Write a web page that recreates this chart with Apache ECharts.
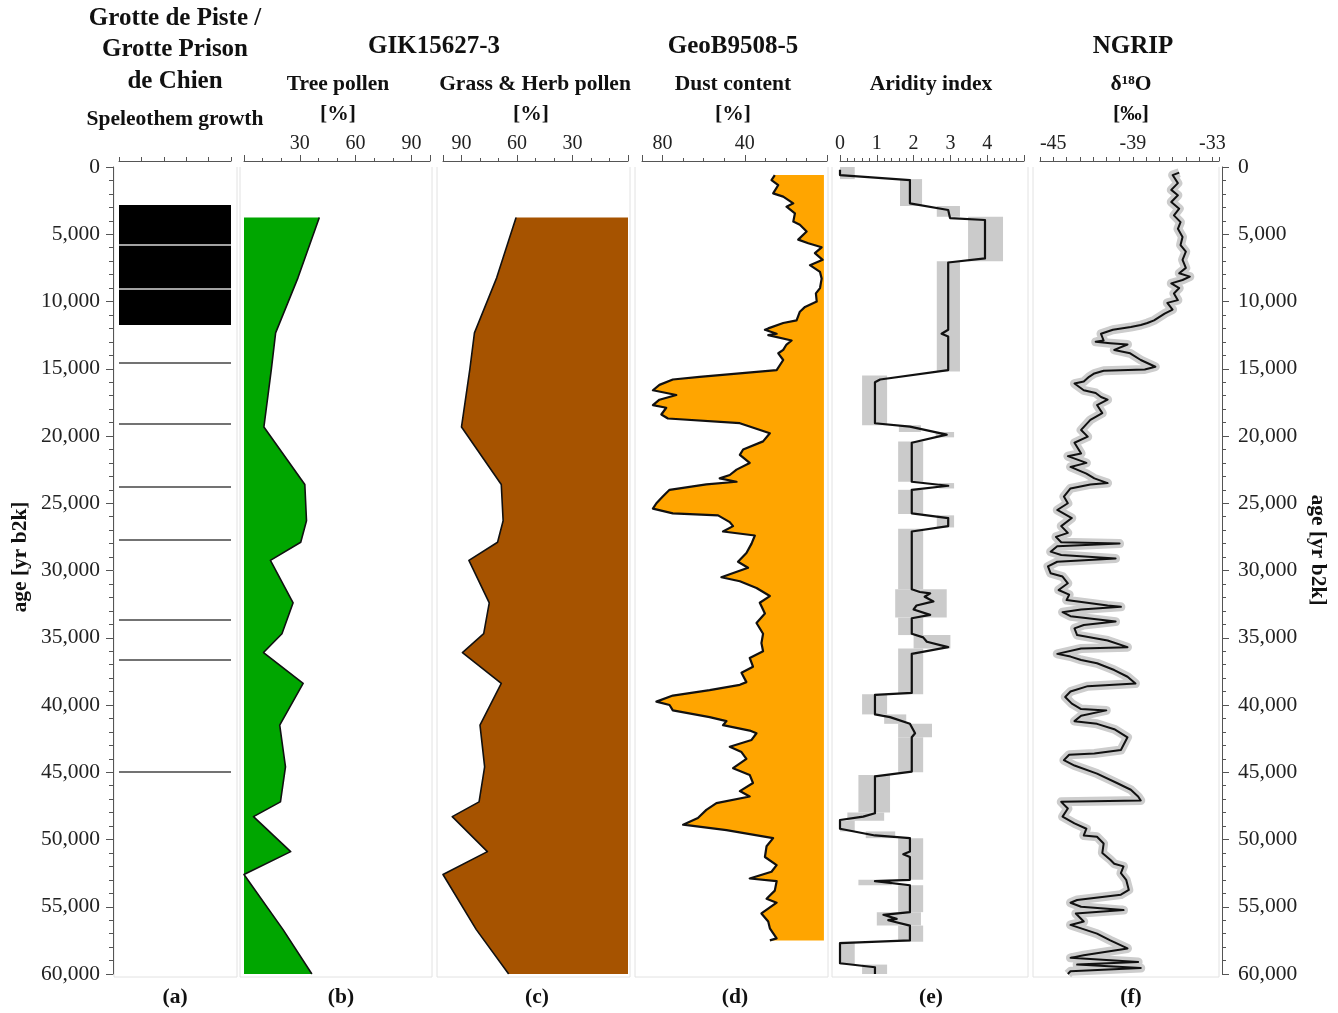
<!DOCTYPE html>
<html><head><meta charset="utf-8">
<script src="https://cdn.jsdelivr.net/npm/echarts@6/dist/echarts.min.js"></script>
<style>html,body{margin:0;padding:0;background:#fff}#c{width:1338px;height:1013px}</style>
</head><body><div id="c"></div>
<script>
// ---------------- DATA ----------------
const ageTickLabels = [0,5000,10000,15000,20000,25000,30000,35000,40000,45000,50000,55000,60000];
const treeTickLabels = [30,60,90];
const grassTickLabels = [30,60,90];
const dustTickLabels = [40,80];
const aridTickLabels = [0,1,2,3,4];
const ngripTickLabels = [-45,-39,-33];

// (a) speleothem growth phases [start age, end age] and single growth ages
const speleoBlocks = [[2830,5800],[5800,9070],[9070,11750]];
const speleoLines = [14570,19110,23790,27730,33680,36650,44980];

// (b),(c) GIK15627-3 pollen
const pollenAges = [3760,8240,12330,15050,19330,23600,26300,27900,29250,32400,34700,36100,38400,41500,44600,47200,48300,50900,52600,56700,60000];
const treePollen = [40.5,29,17,14.7,10.7,32.7,33.6,30.5,14.2,26.4,20.4,10.5,31.8,19.2,22.3,19.6,5.1,25.1,0,21,36.5];
const grassPollen = [60.5,71,83,85.5,90,68.5,67.5,70.5,86,75,78,89.5,68.5,80,77.5,80.5,95,76,100,82,64.5];

// (d) GeoB9508-5 dust content
const dustAges = [600,970,1340,1960,2200,2700,2950,3440,4060,4300,4800,5400,5670,5970,6400,6900,7300,7800,8300,9000,9400,10000,10400,10760,11400,11600,12000,12100,12400,12500,12900,13200,13600,13850,14350,15100,15600,15800,16200,16600,16950,17300,17700,17900,18400,18700,19050,19800,20400,21000,21400,22000,22500,22900,23150,23400,23600,24000,24500,25000,25400,25750,25900,26400,26700,27100,27400,28000,28700,29350,29800,30500,30800,31300,31900,32400,33200,33900,34700,35400,36000,36500,37150,37600,38300,38500,38900,39300,39750,40000,40400,40900,41200,41500,41900,42100,42600,43100,43500,44000,44700,45200,45800,46400,46800,47300,47800,48400,48900,49300,49900,50500,51300,51900,52400,52900,53100,53800,54400,54700,55500,56100,56600,57350,57500];
const dustContent = [25.4,27,23.7,26.2,21.3,16.4,19.7,15.6,16.4,13.2,9.9,14,9.1,2.6,5.9,2.1,8.3,3.4,2.6,3.4,5.4,5,10.7,13.2,14.8,21.3,28.6,30.2,24.5,28.6,17.2,19.7,21.3,23.7,21.3,24.5,62,75,81.5,84.7,73.3,81.5,84.7,78.2,80.6,77.4,42.4,27.8,31.1,40.8,42.4,37.6,44,47.3,52.2,44,58.7,76.6,79.9,83,84.7,75,53,47.3,45.7,50.6,35.1,36.7,39.2,43.3,38.4,51.4,42.4,34.3,27.8,32.7,30.2,34.3,31.1,31.9,31.1,37.6,36,41.6,39.2,42.4,57.1,75,83,76.6,75,57.1,48.9,50.6,37.6,34.3,36.7,47.3,41.6,39.2,45.7,37.6,36,42.4,37.6,53.8,58.7,62.8,70,48.9,26.2,29.4,30.2,24.5,27,37.6,24.5,25.4,29.4,24.5,31.9,28.6,27.8,24.5,27.8];

// (e) aridity index (line) and its uncertainty band [start, end, low, high]
const aridAges = [200,600,970,2700,3200,3800,3940,6800,7100,12100,12400,12600,15100,15800,16000,19050,19300,19900,20500,23400,23700,24000,25750,26100,26700,27100,31400,31600,31700,31950,32300,32600,32900,33300,33550,34700,34970,35300,35700,36200,39100,39250,40700,40900,41400,42100,42400,44950,45300,48050,48300,48550,49200,49700,49900,50900,51100,51300,53000,53100,53400,55400,55600,55900,56000,56400,57500,57700,59200,59500,60000];
const aridIndex = [0,0,1.9,1.9,2.94,2.99,3.94,3.94,2.94,2.94,2.76,2.94,2.94,1.09,0.95,0.95,1.9,2.9,1.95,1.95,2.94,1.95,1.95,2.94,2.94,1.95,1.95,2.17,2.45,2.3,2.54,2.08,2.0,2.45,1.95,1.95,2.26,2.36,2.94,1.95,1.95,0.95,0.95,1.36,1.9,2.04,1.95,1.95,0.95,0.95,0.63,0,0,0.95,1.9,1.9,1.72,1.9,1.9,0.95,1.9,1.9,1.18,1.54,1.31,1.9,1.9,0,0,0.95,0.95];
const aridBand = [
 [0,900,0,0.4],[900,2900,1.63,2.23],[2900,3700,2.63,3.26],[3700,7000,3.48,4.43],[7000,15200,2.63,3.26],
 [15500,19200,0.6,1.28],[19200,19700,1.6,2.2],[19700,20100,2.6,3.1],[20400,23400,1.58,2.26],[23500,23900,2.7,3.1],
 [24000,25800,1.58,2.26],[25900,26800,2.63,3.1],[26900,31400,1.58,2.26],[31400,33500,1.5,2.9],[33500,34800,1.58,2.26],
 [34800,35800,2.0,3.0],[35800,39200,1.58,2.26],[39200,40700,0.6,1.28],[40700,41400,1.2,1.8],[41400,42400,1.58,2.5],
 [42400,45000,1.58,2.26],[45200,48000,0.5,1.36],[48000,48600,0.2,1.2],[48600,49400,0,0.4],[49400,49900,0.7,1.5],
 [49900,53000,1.58,2.26],[53000,53400,0.5,1.4],[53400,55400,1.58,2.26],[55400,56400,1.0,2.2],[56400,57600,1.58,2.26],
 [57600,59300,0,0.4],[59300,60000,0.6,1.28]
];

// (f) NGRIP d18O
const ngripAges = [420,600,1200,1700,2100,2600,3100,3600,4100,4600,5200,5800,6300,6900,7500,7900,8150,8400,8650,9000,9400,9900,10100,10600,10900,11400,11600,11750,11900,12100,12400,12900,13000,13100,13200,13600,13850,14350,14850,15050,15150,15350,15600,15950,16100,16600,16800,17100,17300,17700,18300,18800,19550,20050,20500,21300,21500,22000,22300,22800,23150,23500,23600,23900,24500,25000,25500,26100,26700,27200,27500,27900,28000,28200,28600,28850,29100,29350,29700,30200,30450,30950,31450,31800,32200,32600,32700,32900,33100,33400,33800,34050,34300,34800,35200,35700,35800,36200,36400,36650,36900,37400,37900,38400,38600,39000,39400,39900,40300,40400,40800,41200,41400,41800,42400,43350,43600,43700,44100,44500,45100,45800,46300,46800,47100,47200,47700,48300,48800,49200,49700,49800,50300,51000,51500,51800,52000,52500,53000,53750,54100,54500,54700,55000,55250,55500,56100,56350,57000,57500,58100,58600,58800,59100,59300,59550,59800,60000];
const ngripD18O = [-35.5,-36.0,-35.6,-36.1,-35.6,-36.1,-35.5,-35.9,-35.4,-35.6,-35.25,-35.4,-35.0,-35.25,-35.0,-35.5,-34.7,-35.25,-36.1,-35.5,-35.9,-35.6,-36.4,-36.0,-36.6,-37.4,-37.9,-38.4,-39.15,-40.5,-41.4,-41.2,-41.8,-40.7,-39.4,-40.4,-39.2,-38.4,-37.3,-38.1,-41.2,-41.9,-42.3,-42.7,-43.4,-42.7,-41.8,-41.4,-40.9,-41.7,-41.3,-42.2,-42.9,-42.4,-43.4,-42.9,-43.9,-42.5,-43.7,-42.5,-41.9,-40.9,-42.2,-43.7,-44.2,-43.9,-44.7,-43.6,-44.4,-43.9,-44.8,-44.4,-40.0,-44.7,-45.2,-44.4,-40.3,-44.7,-45.4,-45.2,-44.3,-43.9,-44.6,-43.8,-44.0,-40.9,-39.9,-42.9,-44.3,-43.7,-40.3,-42.7,-43.4,-43.2,-40.9,-39.4,-42.9,-44.7,-43.7,-42.9,-41.7,-40.4,-39.4,-38.8,-42.4,-43.7,-44.1,-43.6,-42.9,-41.0,-42.9,-43.4,-41.7,-40.4,-39.4,-39.9,-41.9,-43.8,-44.2,-43.4,-41.7,-40.2,-39.15,-38.6,-38.4,-44.4,-43.9,-44.3,-43.4,-42.5,-42.7,-41.7,-41.2,-41.3,-40.7,-40.4,-39.7,-39.9,-39.5,-39.3,-39.9,-43.2,-43.7,-42.9,-39.7,-43.3,-42.7,-43.7,-41.7,-40.7,-39.4,-42.7,-43.7,-38.6,-43.2,-38.4,-43.7,-43.9];

// ---------------- CHART ----------------
const FONT = '"Liberation Serif","Times New Roman",serif';
const chart = echarts.init(document.getElementById('c'), null, {renderer:'canvas'});
const TOP = 167, H = 807;
const AX = '#555';

const panels = [
  {left:119, width:112, min:0, max:5, interval:1, minor:0, inverse:false, labels:[]},
  {left:244, width:186, min:0, max:100, interval:30, minor:3, inverse:false, labels:treeTickLabels},
  {left:443, width:185, min:0, max:100, interval:30, minor:3, inverse:true, labels:grassTickLabels},
  {left:642, width:185, min:0, max:90, interval:40, minor:4, inverse:true, labels:dustTickLabels},
  {left:840, width:184, min:0, max:5, interval:1, minor:5, inverse:false, labels:aridTickLabels},
  {left:1040, width:179, min:-46, max:-32.5, interval:1, minor:0, inverse:false, labels:ngripTickLabels}
];

const grids = panels.map(p => ({left:p.left, width:p.width, top:TOP, height:H}));
const xAxes = panels.map((p,i) => ({
  gridIndex:i, type:'value', position:'top', offset:6, min:p.min, max:p.max, interval:p.interval, inverse:p.inverse,
  axisLine:{show:true, onZero:false, lineStyle:{color:AX, width:1}},
  axisTick:{show:true, length: p.minor ? 6 : 4, lineStyle:{color:AX}},
  minorTick:{show:!!p.minor, splitNumber:p.minor||5, length:3, lineStyle:{color:AX}},
  splitLine:{show:false},
  axisLabel:{show:true, fontFamily:FONT, fontSize:20, color:'#222', margin:7,
    formatter:v => p.labels.some(l => Math.abs(l - v) < 1e-6) ? String(Math.round(v)) : ''}
}));
const fmtAge = v => ageTickLabels.includes(v) ? v.toLocaleString('en-US') : '';
const yAxes = panels.map((p,i) => {
  const show = (i === 0 || i === 5);
  return {
    gridIndex:i, type:'value', inverse:true, min:0, max:60000, interval:5000, show:show,
    position: i === 5 ? 'right' : 'left', offset: i === 0 ? 6 : 3,
    axisLine:{show:true, onZero:false, lineStyle:{color:AX, width:1}},
    axisTick:{show:true, length:7, lineStyle:{color:AX}},
    minorTick:{show:true, splitNumber:5, length:4, lineStyle:{color:AX}},
    splitLine:{show:false},
    axisLabel:{show:true, fontFamily:FONT, fontSize:21.5, color:'#222', margin: i === 0 ? 13 : 16, formatter:fmtAge}
  };
});

function polygonSeries(idx, pts, color){
  return {type:'custom', xAxisIndex:idx, yAxisIndex:idx, silent:true, clip:true, z:1,
    data:[pts[0]],
    renderItem:(params, api) => ({type:'polygon', shape:{points: pts.map(p => api.coord(p))}, style:{fill:color}})};
}
function outlineSeries(idx, pts, color, width, z){
  return {type:'line', xAxisIndex:idx, yAxisIndex:idx, data:pts, symbol:'none', silent:true, z:z||3,
    lineStyle:{color:color, width:width, join:'round'}, animation:false};
}

const treePts = pollenAges.map((a,i) => [treePollen[i], a]);
const grassPts = pollenAges.map((a,i) => [grassPollen[i], a]);
const dustPts = dustAges.map((a,i) => [dustContent[i], a]);
const aridPts = aridAges.map((a,i) => [aridIndex[i], a]);
const ngripPts = ngripAges.map((a,i) => [ngripD18O[i], a]);
const lastP = pollenAges[pollenAges.length-1];
const dustBase = 1.5;

const series = [
  // (a)
  {type:'custom', xAxisIndex:0, yAxisIndex:0, silent:true, clip:true,
   data: speleoBlocks.map(b => [0, b[0], 5, b[1]]), encode:{x:[0,2], y:[1,3]},
   renderItem:(params, api) => {
     const p0 = api.coord([api.value(0), api.value(1)]);
     const p1 = api.coord([api.value(2), api.value(3)]);
     return {type:'rect', shape:{x:p0[0]-1, y:p0[1], width:p1[0]-p0[0]+1, height:p1[1]-p0[1]}, style:{fill:'#000'}};
   }},
  {type:'custom', xAxisIndex:0, yAxisIndex:0, silent:true, clip:true, z:4,
   data: speleoBlocks.slice(1).map(b => [0, b[0]]), encode:{x:0, y:1},
   renderItem:(params, api) => {
     const p0 = api.coord([0, api.value(1)]); const p1 = api.coord([5, api.value(1)]);
     return {type:'line', shape:{x1:p0[0], y1:p0[1], x2:p1[0], y2:p1[1]}, style:{stroke:'#d8d8d8', lineWidth:1.5}};
   }},
  {type:'custom', xAxisIndex:0, yAxisIndex:0, silent:true, clip:true,
   data: speleoLines.map(a => [0, a]), encode:{x:0, y:1},
   renderItem:(params, api) => {
     const p0 = api.coord([0, api.value(1)]); const p1 = api.coord([5, api.value(1)]);
     return {type:'line', shape:{x1:p0[0]-1, y1:p0[1], x2:p1[0], y2:p1[1]}, style:{stroke:'#444', lineWidth:1.5}};
   }},
  // (b)
  polygonSeries(1, [[0, pollenAges[0]]].concat(treePts, [[0, lastP]]), '#00a600'),
  outlineSeries(1, treePts, '#111', 1.6),
  // (c)
  polygonSeries(2, [[0, pollenAges[0]]].concat(grassPts, [[0, lastP]]), '#a65300'),
  outlineSeries(2, grassPts, '#111', 1.6),
  // (d)
  polygonSeries(3, [[dustBase, dustAges[0]]].concat(dustPts, [[dustBase, dustAges[dustAges.length-1]]]), '#ffa500'),
  outlineSeries(3, dustPts, '#111', 2.2),
  // (e)
  {type:'custom', xAxisIndex:4, yAxisIndex:4, silent:true, clip:true, z:1,
   data: aridBand.map(b => [b[2], b[0], b[3], b[1]]), encode:{x:[0,2], y:[1,3]},
   renderItem:(params, api) => {
     const p0 = api.coord([api.value(0), api.value(1)]);
     const p1 = api.coord([api.value(2), api.value(3)]);
     return {type:'rect', shape:{x:p0[0], y:p0[1], width:p1[0]-p0[0], height:p1[1]-p0[1]}, style:{fill:'#cbcbcb'}};
   }},
  outlineSeries(4, aridPts, '#111', 2.2),
  // (f)
  outlineSeries(5, ngripPts, '#cdcdcd', 9, 2),
  outlineSeries(5, ngripPts, '#111', 2)
];

// panel frames
const frames = [[114,237],[240,432],[437,630],[635,828],[832,1028],[1033,1219]];
const graphics = [];
frames.forEach(f => {
  graphics.push({type:'polyline', silent:true, z:0, shape:{points:[[f[0],TOP],[f[0],977],[f[1],977],[f[1],TOP]]}, style:{stroke:'#e2e2e2', lineWidth:1, fill:null}});
});
function txt(s, x, y, size, rot){
  return {type:'text', x:x, y:y, rotation:rot||0, silent:true, z:10,
    style:{text:s, textAlign:'center', textVerticalAlign:'middle', font:'bold '+size+'px '+FONT, fill:'#111'}};
}
const T1 = 25, T2 = 21.5;
graphics.push(
  txt('Grotte de Piste /',175,19,T1), txt('Grotte Prison',175,50,T1), txt('de Chien',175,82,T1),
  txt('Speleothem growth',175,119,T2),
  txt('GIK15627-3',434,47,T1), txt('Tree pollen',338,84,T2), txt('[%]',338,114,T2),
  txt('Grass & Herb pollen',535,84,T2), txt('[%]',531,114,T2),
  txt('GeoB9508-5',733,47,T1), txt('Dust content',733,84,T2), txt('[%]',733,114,T2),
  txt('Aridity index',931,84,T2),
  txt('NGRIP',1133,47,T1), txt('δ¹⁸O',1131,84,T2), txt('[‰]',1131,114,T2),
  txt('(a)',175,997,T2), txt('(b)',341,997,T2), txt('(c)',537,997,T2),
  txt('(d)',735,997,T2), txt('(e)',931,997,T2), txt('(f)',1131,997,T2),
  txt('age [yr b2k]',20,557,T2,Math.PI/2), txt('age [yr b2k]',1318,550,T2,-Math.PI/2)
);

chart.setOption({
  animation:false,
  backgroundColor:'#fff',
  grid:grids, xAxis:xAxes, yAxis:yAxes, series:series, graphic:graphics
});
</script>
</body></html>
